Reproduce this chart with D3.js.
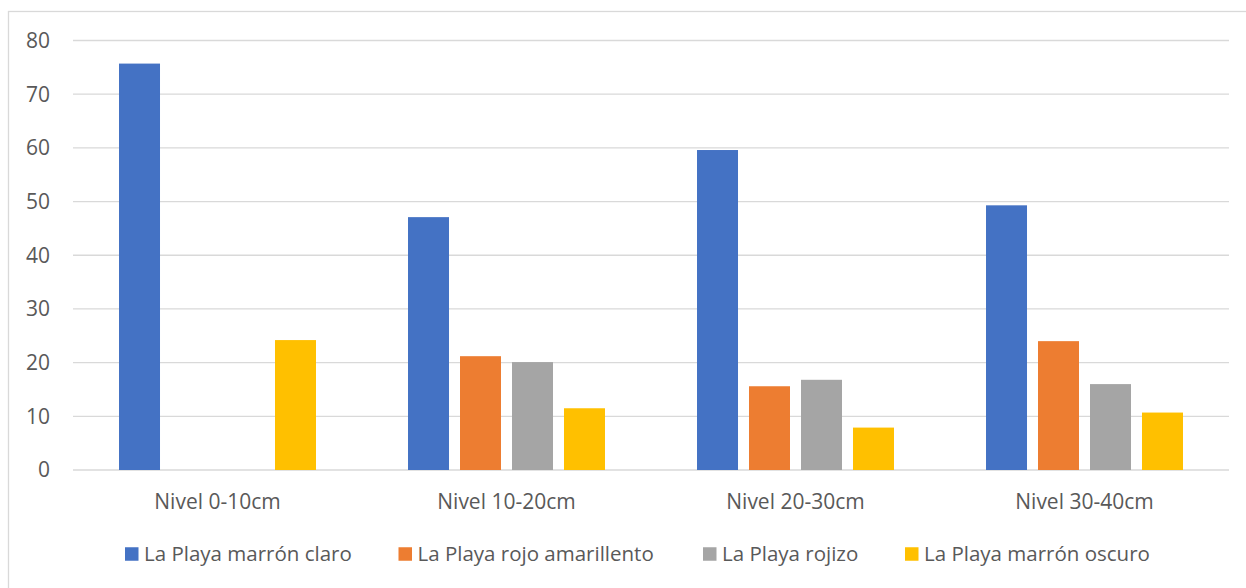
<!DOCTYPE html>
<html lang="es">
<head>
<meta charset="UTF-8">
<title>La Playa</title>
<script src="https://cdn.jsdelivr.net/npm/d3@7"></script>
<style>
    body { margin: 0; background: #fff; }
    text { font-family: "Open Sans", Lato, sans-serif; fill: #595959; }
    .grid line { stroke: #d9d9d9; stroke-width: 1.3px; }
</style>
</head>
<body>
<svg width="1246" height="588"></svg>
<script>
    // niveles y series
    var categories = ["Nivel 0-10cm", "Nivel 10-20cm", "Nivel 20-30cm", "Nivel 30-40cm"];
    var series = ["La Playa marrón claro", "La Playa rojo amarillento", "La Playa rojizo", "La Playa marrón oscuro"];
    var marronClaro = [75.7, 47.1, 59.6, 49.3];
    var rojoAmarillento = [0, 21.2, 15.6, 24.0];
    var rojizo = [0, 20.1, 16.8, 16.0];
    var marronOscuro = [24.2, 11.5, 7.9, 10.7];
    var yTicks = [0, 10, 20, 30, 40, 50, 60, 70, 80];
    var colors = ["#4472c4", "#ed7d31", "#a5a5a5", "#ffc000"];

    var values = [marronClaro, rojoAmarillento, rojizo, marronOscuro];

    var svg = d3.select("svg");

    // marco del gráfico
    svg.append("rect")
        .attr("x", 8.5).attr("y", 11.5)
        .attr("width", 1260).attr("height", 600)
        .attr("fill", "none")
        .attr("stroke", "#d9d9d9")
        .attr("stroke-width", 1.3);

    var plotLeft = 73, plotRight = 1229, plotTop = 40.5, plotBottom = 470;

    var x0 = d3.scaleBand().domain(categories).range([plotLeft, plotRight]);
    var x1 = d3.scaleBand().domain(series).range([0, x0.bandwidth()])
        .paddingInner(0.2115).paddingOuter(0.885);
    var y = d3.scaleLinear().domain([0, 80]).range([plotBottom, plotTop]);

    svg.append("g").attr("class", "grid")
        .selectAll("line")
        .data(yTicks)
        .enter().append("line")
        .attr("x1", plotLeft).attr("x2", plotRight)
        .attr("y1", function(d) { return y(d); })
        .attr("y2", function(d) { return y(d); });

    svg.append("g")
        .selectAll("text")
        .data(yTicks)
        .enter().append("text")
        .attr("x", 50)
        .attr("y", function(d) { return y(d); })
        .attr("dy", "0.35em")
        .attr("text-anchor", "end")
        .style("font-size", "21px")
        .text(function(d) { return d; });

    var groups = svg.append("g")
        .selectAll("g")
        .data(categories)
        .enter().append("g")
        .attr("transform", function(d) { return "translate(" + x0(d) + ",0)"; });

    groups.selectAll("rect")
        .data(function(d, i) {
            return series.map(function(s, j) { return { s: s, v: values[j][i], c: colors[j] }; });
        })
        .enter().append("rect")
        .attr("x", function(d) { return x1(d.s); })
        .attr("width", x1.bandwidth())
        .attr("y", function(d) { return y(d.v); })
        .attr("height", function(d) { return y(0) - y(d.v); })
        .attr("fill", function(d) { return d.c; })
        .attr("display", function(d) { return d.v > 0 ? null : "none"; });

    svg.append("g")
        .selectAll("text")
        .data(categories)
        .enter().append("text")
        .attr("x", function(d) { return x0(d) + x0.bandwidth() / 2; })
        .attr("y", 502)
        .attr("dy", "0.35em")
        .attr("text-anchor", "middle")
        .style("font-size", "21px")
        .text(function(d) { return d; });

    // leyenda
    var legendX = [125, 398.5, 703, 905];
    var legend = svg.append("g")
        .selectAll("g")
        .data(series)
        .enter().append("g")
        .attr("transform", function(d, i) { return "translate(" + legendX[i] + ",554)"; });

    legend.append("rect")
        .attr("x", 0).attr("y", -6.75)
        .attr("width", 13.5).attr("height", 13.5)
        .attr("fill", function(d, i) { return colors[i]; });

    legend.append("text")
        .attr("x", 19)
        .attr("dy", "0.35em")
        .style("font-size", "20.5px")
        .text(function(d) { return d; });
</script>
</body>
</html>
